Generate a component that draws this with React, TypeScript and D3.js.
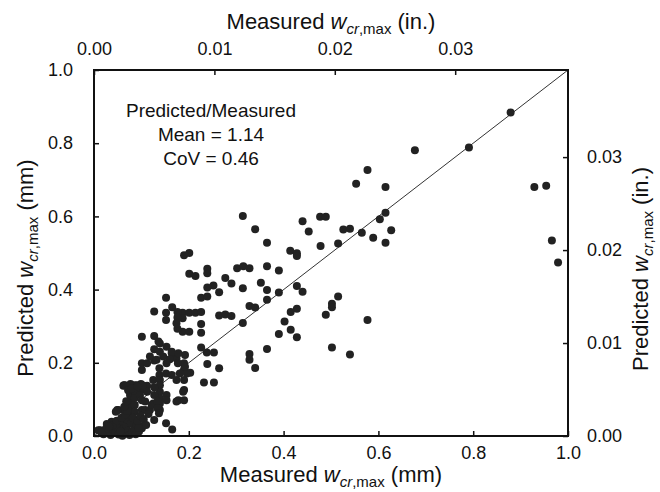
import React, { useEffect, useRef } from 'react';
import * as d3 from 'd3';

// Measured / predicted max crack width, mm
const measured = [
  0.677, 0.791, 0.879, 0.929, 0.954, 0.966, 0.979,
  0.577, 0.553, 0.615, 0.314, 0.440, 0.477, 0.489, 0.615, 0.603, 0.340, 0.453, 0.526, 0.540,
  0.565, 0.627, 0.589, 0.615, 0.365, 0.478, 0.515, 0.190, 0.201, 0.414, 0.428, 0.428,
  0.239, 0.239, 0.201, 0.214, 0.302, 0.315, 0.328, 0.365, 0.390, 0.277, 0.290, 0.252,
  0.239, 0.264, 0.314, 0.352, 0.365, 0.428, 0.440, 0.390, 0.226, 0.239, 0.365, 0.515,
  0.502, 0.502, 0.489, 0.328, 0.340, 0.428, 0.415, 0.187, 0.201, 0.214, 0.226, 0.264,
  0.277, 0.290, 0.187, 0.226, 0.314, 0.402, 0.577, 0.187, 0.201, 0.226, 0.390, 0.415,
  0.428, 0.226, 0.365, 0.502, 0.540,
  0.152, 0.127, 0.152, 0.165, 0.176, 0.152, 0.176, 0.176, 0.101, 0.127, 0.174,
  0.328, 0.328, 0.340, 0.238, 0.253, 0.239, 0.264, 0.232, 0.253, 0.190, 0.190, 0.203,
  0.174, 0.164, 0.153, 0.139, 0.127, 0.139, 0.146, 0.160, 0.101, 0.101, 0.112, 0.127,
  0.138, 0.138, 0.152, 0.164, 0.177, 0.174, 0.190, 0.190, 0.125, 0.139, 0.139, 0.139,
  0.139, 0.153, 0.153, 0.178, 0.190, 0.099, 0.112, 0.127, 0.099, 0.112, 0.062, 0.125,
  0.127, 0.152, 0.165, 0.101, 0.101, 0.101, 0.061, 0.074, 0.013, 0.027, 0.037, 0.048, 0.051,
  0.136, 0.164, 0.178, 0.192, 0.118, 0.132, 0.153, 0.181, 0.196, 0.192, 0.065, 0.076, 0.086,
  0.076, 0.076, 0.076, 0.076, 0.076, 0.086, 0.086, 0.086, 0.086, 0.086, 0.086, 0.097,
  0.101, 0.108, 0.108, 0.118, 0.139, 0.139, 0.174, 0.188, 0.122, 0.101, 0.009,
  0.063, 0.077, 0.091, 0.102, 0.127, 0.134, 0.134, 0.137, 0.049, 0.046,
  0.020, 0.030, 0.035, 0.040, 0.045, 0.050, 0.052, 0.055, 0.058, 0.060, 0.062, 0.065,
  0.068, 0.070, 0.072, 0.075, 0.078, 0.080, 0.082, 0.085, 0.088, 0.090, 0.092, 0.095,
  0.098, 0.040, 0.048, 0.025, 0.015, 0.058, 0.066, 0.070, 0.064, 0.068, 0.072, 0.080,
  0.092, 0.105, 0.110, 0.115, 0.060, 0.032, 0.056, 0.094,
];
const predicted = [
  0.781, 0.788, 0.884, 0.680, 0.684, 0.534, 0.474,
  0.727, 0.689, 0.680, 0.601, 0.587, 0.599, 0.599, 0.610, 0.592, 0.565, 0.559, 0.564, 0.566,
  0.555, 0.562, 0.542, 0.528, 0.528, 0.519, 0.526, 0.494, 0.500, 0.506, 0.499, 0.492,
  0.457, 0.445, 0.443, 0.437, 0.458, 0.464, 0.458, 0.464, 0.452, 0.432, 0.417, 0.411,
  0.406, 0.393, 0.404, 0.419, 0.399, 0.410, 0.394, 0.392, 0.378, 0.381, 0.372, 0.381,
  0.361, 0.352, 0.331, 0.355, 0.351, 0.348, 0.339, 0.337, 0.337, 0.337, 0.339, 0.329,
  0.332, 0.328, 0.322, 0.306, 0.309, 0.313, 0.317, 0.285, 0.285, 0.282, 0.279, 0.290,
  0.270, 0.242, 0.238, 0.242, 0.223,
  0.378, 0.340, 0.337, 0.352, 0.339, 0.317, 0.324, 0.293, 0.271, 0.273, 0.308,
  0.224, 0.208, 0.186, 0.228, 0.228, 0.197, 0.185, 0.146, 0.146, 0.199, 0.182, 0.173,
  0.212, 0.226, 0.244, 0.253, 0.237, 0.230, 0.217, 0.210, 0.199, 0.180, 0.199, 0.206,
  0.185, 0.167, 0.171, 0.167, 0.199, 0.153, 0.153, 0.126, 0.153, 0.153, 0.139, 0.121,
  0.103, 0.112, 0.098, 0.098, 0.098, 0.142, 0.137, 0.133, 0.126, 0.121, 0.137, 0.089,
  0.044, 0.035, 0.018, 0.071, 0.048, 0.021, 0.071, 0.062, 0.016, 0.033, 0.039, 0.033, 0.071,
  0.258, 0.230, 0.226, 0.221, 0.217, 0.208, 0.199, 0.171, 0.171, 0.189, 0.139, 0.135, 0.139,
  0.112, 0.093, 0.077, 0.057, 0.038, 0.120, 0.104, 0.085, 0.066, 0.046, 0.027, 0.112,
  0.098, 0.094, 0.071, 0.071, 0.089, 0.071, 0.094, 0.121, 0.085, 0.025, 0.016,
  0.139, 0.142, 0.139, 0.139, 0.112, 0.094, 0.076, 0.062, 0.071, 0.066,
  0.005, 0.010, 0.003, 0.018, 0.008, 0.022, 0.004, 0.030, 0.012, 0.040, 0.020, 0.006,
  0.028, 0.045, 0.015, 0.003, 0.035, 0.010, 0.050, 0.018, 0.005, 0.030, 0.040, 0.012,
  0.055, 0.030, 0.042, 0.020, 0.010, 0.050, 0.058, 0.068, 0.080, 0.095, 0.125, 0.130,
  0.135, 0.045, 0.030, 0.060, 0.001, 0.026, 0.013, 0.022,
];

const mmTicks = [0.0, 0.2, 0.4, 0.6, 0.8, 1.0];
const inTicks = [0.0, 0.01, 0.02, 0.03];
const annotation = ['Predicted/Measured', 'Mean = 1.14', 'CoV = 0.46'];

const MM_PER_IN = 25.4;
const FONT = '"Liberation Sans", Arial, sans-serif';

const App = () => {
  const ref = useRef<SVGSVGElement>(null);

  useEffect(() => {
    const svg = d3.select(ref.current);
    svg.selectAll('*').remove();

    const W = 660, H = 492;
    const margin = { top: 70, right: 92, bottom: 56, left: 94 };
    const width = W - margin.left - margin.right;
    const height = H - margin.top - margin.bottom;

    const g = svg.append('g').attr('transform', `translate(${margin.left},${margin.top})`);

    const x = d3.scaleLinear().domain([0, 1]).range([0, width]);
    const y = d3.scaleLinear().domain([0, 1]).range([height, 0]);
    // inch scales share the same pixels
    const xIn = d3.scaleLinear().domain([0, 1 / MM_PER_IN]).range([0, width]);
    const yIn = d3.scaleLinear().domain([0, 1 / MM_PER_IN]).range([height, 0]);

    const styleAxis = (sel: any) => {
      sel.select('.domain').remove();
      sel.selectAll('.tick line').attr('stroke', '#111').attr('stroke-width', 1.5);
      sel.selectAll('.tick text').attr('fill', '#111').style('font-family', FONT).style('font-size', '18px');
    };

    g.append('g')
      .attr('transform', `translate(0,${height})`)
      .call(d3.axisBottom(x).tickValues(mmTicks).tickFormat(d3.format('.1f')).tickSizeInner(-5).tickSizeOuter(0).tickPadding(10))
      .call(styleAxis);

    g.append('g')
      .call(d3.axisLeft(y).tickValues(mmTicks).tickFormat(d3.format('.1f')).tickSizeInner(-5).tickSizeOuter(0).tickPadding(21))
      .call(styleAxis);

    g.append('g')
      .call(d3.axisTop(xIn).tickValues(inTicks).tickFormat(d3.format('.2f')).tickSizeInner(-5).tickSizeOuter(0).tickPadding(15))
      .call(styleAxis);

    g.append('g')
      .attr('transform', `translate(${width},0)`)
      .call(d3.axisRight(yIn).tickValues(inTicks).tickFormat(d3.format('.2f')).tickSizeInner(-5).tickSizeOuter(0).tickPadding(19))
      .call(styleAxis);

    // 1:1 line
    g.append('line')
      .attr('x1', x(0)).attr('y1', y(0))
      .attr('x2', x(1)).attr('y2', y(1))
      .attr('stroke', '#333').attr('stroke-width', 1);

    // points
    g.selectAll('circle.pt')
      .data(measured.map((m, i) => [m, predicted[i]]))
      .enter()
      .append('circle')
        .attr('class', 'pt')
        .attr('cx', d => x(d[0]))
        .attr('cy', d => y(d[1]))
        .attr('r', 4)
        .attr('fill', '#222');

    // frame
    g.append('rect')
      .attr('width', width).attr('height', height)
      .attr('fill', 'none').attr('stroke', '#111').attr('stroke-width', 2);

    // annotation
    g.append('g')
      .selectAll('text')
      .data(annotation)
      .enter()
      .append('text')
        .attr('x', 117)
        .attr('y', (d, i) => 47 + i * 24)
        .attr('text-anchor', 'middle')
        .attr('fill', '#111')
        .style('font-family', FONT)
        .style('font-size', '19px')
        .text(d => d);

    // axis title with italic w and subscript
    const title = (sel: any, pre: string, unit: string) => {
      sel.attr('fill', '#111').style('font-family', FONT).style('font-size', '22px').attr('text-anchor', 'middle');
      sel.append('tspan').text(pre + ' ');
      sel.append('tspan').style('font-style', 'italic').text('w');
      sel.append('tspan').attr('dy', 5).style('font-size', '15px').style('font-style', 'italic').text('cr');
      sel.append('tspan').style('font-size', '15px').text(',max');
      sel.append('tspan').attr('dy', -5).text(' ' + unit);
    };

    svg.append('text').attr('x', margin.left + width / 2).attr('y', 482).call(title, 'Measured', '(mm)');
    svg.append('text').attr('x', margin.left + width / 2).attr('y', 29).call(title, 'Measured', '(in.)');
    svg.append('text').attr('transform', 'translate(33,268) rotate(-90)').call(title, 'Predicted', '(mm)');
    svg.append('text').attr('transform', 'translate(648,269) rotate(-90)').call(title, 'Predicted', '(in.)');
  }, []);

  return (
    <svg ref={ref} width={660} height={492}
      style={{ position: 'absolute', left: 0, top: 0, background: '#fff' }} />
  );
};

export default App;
